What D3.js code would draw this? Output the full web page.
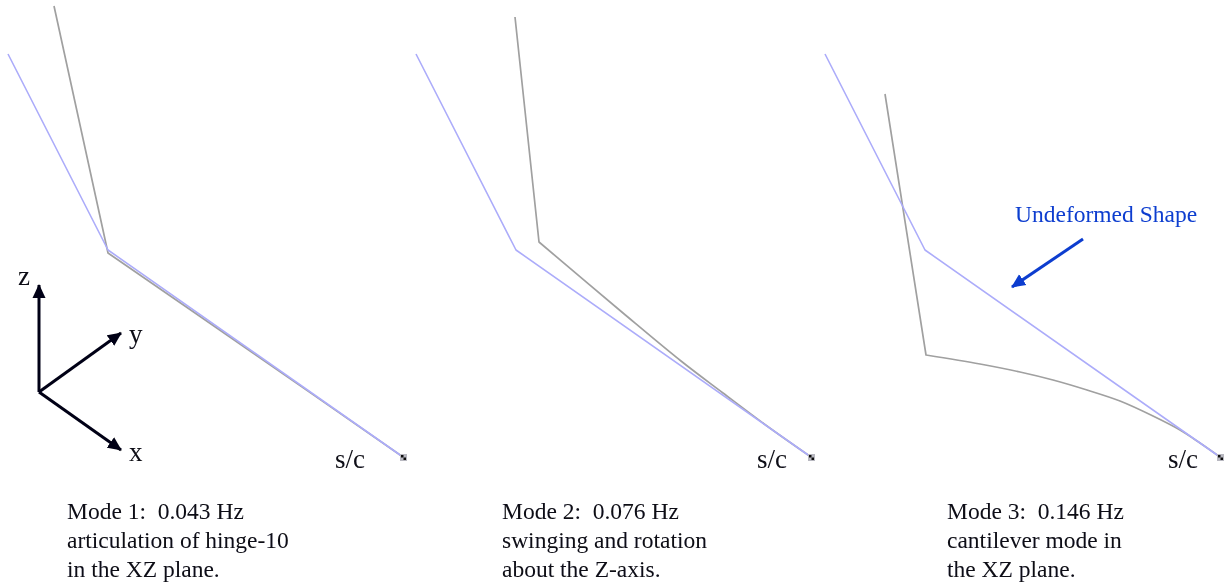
<!DOCTYPE html>
<html>
<head>
<meta charset="utf-8">
<script src="https://cdn.jsdelivr.net/npm/d3@7"></script>
<style>
    html, body { margin: 0; padding: 0; background: #ffffff; }
    svg { display: block; }
    text { font-family: "Liberation Serif", serif; fill: #0a0a14; }
</style>
</head>
<body>
<div id="chart"></div>
<script>
// all shapes are measured from the s/c attachment point: [left of s/c, above s/c]
const undeformed = [[395, 403], [295, 207], [0, 0]];
const mode1 = [[349, 451], [295, 204], [150, 104], [0, 0]];
const mode2 = [[296, 440], [272, 215], [188, 144], [130, 96], [88, 64], [44, 31], [0, 0]];
const mode3 = [[335, 363], [294, 102], [240, 93], [200, 85], [167, 77], [133, 67], [100, 56], [67, 41], [40, 27], [20, 14], [0, 0]];

const panelNames = ["mode1", "mode2", "mode3"];
const panelShapes = [mode1, mode2, mode3];
const attachX = [403, 811, 1220];
const attachY = 457;
const scLabelX = [335, 757, 1168];

const captions = [
    ["Mode 1:  0.043 Hz", "articulation of hinge-10", "in the XZ plane."],
    ["Mode 2:  0.076 Hz", "swinging and rotation", "about the Z-axis."],
    ["Mode 3:  0.146 Hz", "cantilever mode in", "the XZ plane."]
];
const captionX = [67, 502, 947];
const captionY = [519, 548, 577];

const axisNames = ["z", "y", "x"];
const axisEnds = [[0, 107], [82, 59], [82, -58]];
const axisLabelX = [18, 129, 129];
const axisLabelY = [285, 343, 461];

const width = 1224, height = 582;

const svg = d3.select("#chart")
    .append("svg")
    .attr("width", width)
    .attr("height", height);

const defs = svg.append("defs");

// the source is a slightly soft scan, so everything gets a touch of blur
defs.append("filter")
    .attr("id", "soft")
    .attr("filterUnits", "userSpaceOnUse")
    .attr("x", 0).attr("y", 0)
    .attr("width", width).attr("height", height)
    .append("feGaussianBlur")
    .attr("stdDeviation", 0.5);

function addHead(id, color) {
    defs.append("marker")
        .attr("id", id)
        .attr("viewBox", "0 0 14 14")
        .attr("refX", 13)
        .attr("refY", 7)
        .attr("markerUnits", "userSpaceOnUse")
        .attr("markerWidth", 14)
        .attr("markerHeight", 14)
        .attr("orient", "auto")
        .append("path")
        .attr("d", "M0,0.5L14,7L0,13.5Z")
        .style("fill", color);
}
addHead("head-black", "#000014");
addHead("head-blue", "#0a3ccf");

const root = svg.append("g").attr("filter", "url(#soft)");

const y = d3.scaleLinear().domain([0, 457]).range([attachY, 0]);

panelShapes.forEach(function (shape, i) {
    const x = d3.scaleLinear().domain([0, 403]).range([attachX[i], attachX[i] - 403]);
    const line = d3.line().x(d => x(d[0])).y(d => y(d[1]));
    const curved = d3.line().x(d => x(d[0])).y(d => y(d[1])).curve(d3.curveCatmullRom.alpha(0.5));
    const g = root.append("g").attr("class", panelNames[i]);

    // deformed shape: straight top leg then the curved boom
    g.append("path")
        .attr("d", line(shape.slice(0, 2)) + "L" + curved(shape.slice(1)).slice(1))
        .style("fill", "none")
        .style("stroke", "#a0a0a0")
        .style("stroke-linejoin", "round")
        .style("stroke-width", 1.7);

    g.append("path")
        .attr("d", line(undeformed))
        .style("fill", "none")
        .style("stroke", "#acacfa")
        .style("stroke-linejoin", "round")
        .style("stroke-width", 1.6);

    // small s/c marker
    g.append("rect")
        .attr("x", x(0) - 3).attr("y", y(0) - 3)
        .attr("width", 7).attr("height", 7)
        .style("fill", "#b8b8c0");
    g.append("rect")
        .attr("x", x(0) - 2).attr("y", y(0) - 2)
        .attr("width", 2.5).attr("height", 2.5)
        .style("fill", "#111111");
    g.append("rect")
        .attr("x", x(0) + 0.5).attr("y", y(0) + 0.5)
        .attr("width", 2.5).attr("height", 2.5)
        .style("fill", "#111111");

    g.append("text")
        .attr("x", scLabelX[i])
        .attr("y", 468)
        .style("font-size", "27px")
        .text("s/c");

    g.selectAll("text.caption")
        .data(captions[i])
        .enter()
        .append("text")
        .attr("class", "caption")
        .attr("x", captionX[i])
        .attr("y", (d, k) => captionY[k])
        .style("font-size", "23.5px")
        .style("white-space", "pre")
        .text(d => d);
});

// xyz triad
const triadX = d3.scaleLinear().domain([0, 82]).range([39, 121]);
const triadY = d3.scaleLinear().domain([0, 107]).range([392, 285]);
const triad = root.append("g").attr("class", "triad");

triad.selectAll("line")
    .data(axisEnds)
    .enter()
    .append("line")
    .attr("x1", triadX(0))
    .attr("y1", triadY(0))
    .attr("x2", d => triadX(d[0]))
    .attr("y2", d => triadY(d[1]))
    .style("stroke", "#000014")
    .style("stroke-width", 3)
    .attr("marker-end", "url(#head-black)");

triad.selectAll("text")
    .data(axisNames)
    .enter()
    .append("text")
    .attr("x", (d, i) => axisLabelX[i])
    .attr("y", (d, i) => axisLabelY[i])
    .style("font-size", "27px")
    .text(d => d);

// callout in the third panel
root.append("text")
    .attr("x", 1015)
    .attr("y", 222)
    .style("font-size", "23.5px")
    .style("fill", "#0a3ccf")
    .text("Undeformed Shape");

root.append("line")
    .attr("x1", 1083)
    .attr("y1", 239)
    .attr("x2", 1012)
    .attr("y2", 287)
    .style("stroke", "#0a3ccf")
    .style("stroke-width", 3)
    .attr("marker-end", "url(#head-blue)");
</script>
</body>
</html>
